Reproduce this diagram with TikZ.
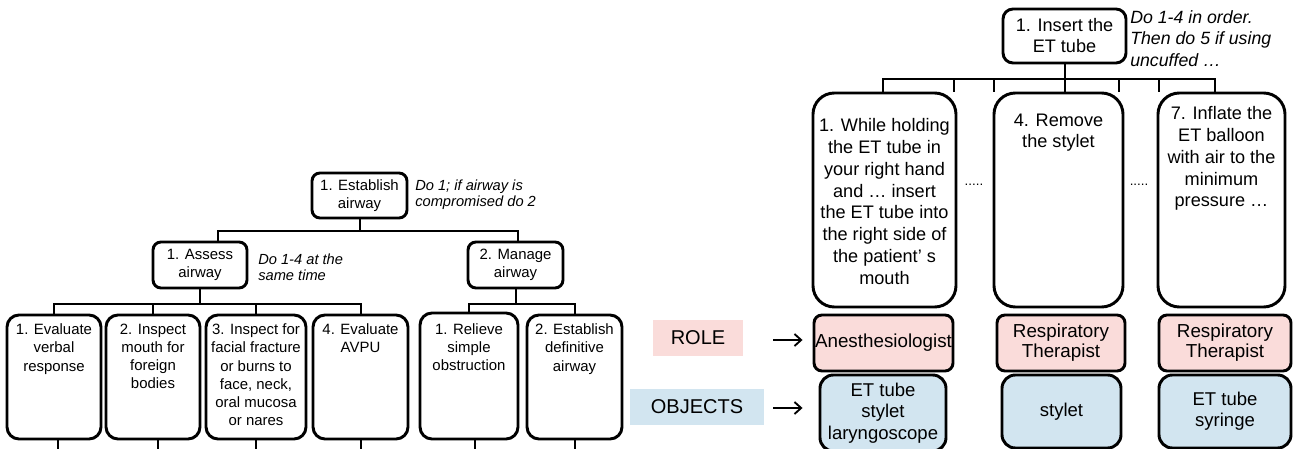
\documentclass[tikz,border=0pt]{standalone}
\usepackage{fontspec}
\setmainfont{Liberation Sans}
\usetikzlibrary{arrows.meta,calc}
\newdimen\pxu \pxu=0.75pt
\definecolor{rolepink}{RGB}{250,220,218}
\definecolor{objblue}{RGB}{210,229,240}
\newcommand\fLeft{\fontsize{11.2}{13.7}\selectfont}
\newcommand\fNoteL{\fontsize{11}{12}\selectfont\itshape}
\newcommand\fRight{\fontsize{13.6}{16.3}\selectfont}
\newcommand\fIns{\fontsize{13.6}{15.75}\selectfont}
\newcommand\fNoteR{\fontsize{13.3}{16.1}\selectfont\itshape}
\newcommand\fRole{\fontsize{14.1}{15}\selectfont}
\newcommand\fObj{\fontsize{13.9}{16}\selectfont}
\newcommand\fLab{\fontsize{15}{15}\selectfont}
\begin{document}
\begin{tikzpicture}[x=0.75pt,y=-0.75pt,
  tbox/.style={draw, line width=2.2pt, rounded corners=#1, inner sep=0pt, align=center},
  tbox/.default=6pt,
  conn/.style={line width=1.5pt},
  ttext/.style={inner sep=0pt, align=center, anchor=north},
  note/.style={inner sep=0pt, align=left, anchor=west},
  arrw/.style={line width=1.4pt, -{Straight Barb[length=5pt,width=9pt]}},
  lab/.style={inner sep=0pt, font=\fLab}]
\useasboundingbox (0,0) rectangle (1293,449);
\coordinate (bot) at (0,452);

% ---------- left tree ----------
\node[tbox, minimum width=95\pxu, minimum height=45\pxu, font=\fLeft] (est) at (359.5,195.5) {1. Establish\\airway};
\node[note, font=\fNoteL] (n1) at (415,195) {Do 1; if airway is\\compromised do 2};
\node[tbox, minimum width=94\pxu, minimum height=46\pxu, font=\fLeft] (assess) at (200,265) {1. Assess\\airway};
\node[note, font=\fNoteL] (n2) at (258,267.5) {Do 1-4 at the\\same time};
\node[tbox, minimum width=95\pxu, minimum height=46\pxu, font=\fLeft] (manage) at (515.5,265) {2. Manage\\airway};

\node[tbox=9pt, minimum width=94\pxu, minimum height=124\pxu] (c1) at (54,377) {};
\node[tbox=9pt, minimum width=94\pxu, minimum height=124\pxu] (c2) at (153,377) {};
\node[tbox=9pt, minimum width=100\pxu, minimum height=124\pxu] (c3) at (256,377) {};
\node[tbox=9pt, minimum width=95\pxu, minimum height=124\pxu] (c4) at (360.5,377) {};
\node[tbox=9pt, minimum width=98\pxu, minimum height=126\pxu] (c5) at (469,376) {};
\node[tbox=9pt, minimum width=95\pxu, minimum height=124\pxu] (c6) at (574.5,377) {};

\node[ttext, font=\fLeft] (t1) at (54,323.5) {1. Evaluate\\verbal\\response};
\node[ttext, font=\fLeft] (t2) at (153,323.5) {2. Inspect\\mouth for\\foreign\\bodies};
\node[ttext, font=\fLeft] (t3) at (256,323.5) {3. Inspect for\\facial fracture\\or burns to\\face, neck,\\oral mucosa\\or nares};
\node[ttext, font=\fLeft] (t4) at (360.5,323.5) {4. Evaluate\\AVPU};
\node[ttext, font=\fLeft] (t5) at (469,323) {1. Relieve\\simple\\obstruction};
\node[ttext, font=\fLeft] (t6) at (574.5,323.5) {2. Establish\\definitive\\airway};

\draw[conn] (est.south) -- ++(0,12) -| ([xshift=13.5pt]assess.north);
\draw[conn] (est.south) -- ++(0,12) -| ([xshift=2pt]manage.north);
\draw[conn] (assess.south) -- ++(0,15) -| (c1.north);
\draw[conn] (assess.south) -- ++(0,15) -| (c2.north);
\draw[conn] (assess.south) -- ++(0,15) -| (c3.north);
\draw[conn] (assess.south) -- ++(0,15) -| (c4.north);
\draw[conn] (manage.south) -- ++(0,15) -| (c5.north);
\draw[conn] (manage.south) -- ++(0,15) -| (c6.north);

\draw[conn] ([xshift=3pt]c1.south) -- ([xshift=3pt]c1.south |- bot);
\draw[conn] ([xshift=3.5pt]c2.south) -- ([xshift=3.5pt]c2.south |- bot);
\draw[conn] (c3.south) -- (c3.south |- bot);
\draw[conn] (c4.south) -- (c4.south |- bot);
\draw[conn] ([xshift=4.5pt]c5.south) -- ([xshift=4.5pt]c5.south |- bot);
\draw[conn] (c6.south) -- (c6.south |- bot);

% ---------- right tree ----------
\node[tbox=7.5pt, minimum width=123\pxu, minimum height=54\pxu, font=\fIns] (ins) at (1064.5,36) {1. Insert the\\ET tube};
\node[note, font=\fNoteR] (n3) at (1130,38.5) {Do 1-4 in order.\\Then do 5 if using\\uncuffed …};

\node[tbox=16pt, minimum width=143\pxu, minimum height=214\pxu] (rc1) at (884.5,200) {};
\node[tbox=16pt, minimum width=129\pxu, minimum height=214\pxu] (rc2) at (1058.5,200) {};
\node[tbox=16pt, minimum width=127\pxu, minimum height=214\pxu] (rc3) at (1221.5,200) {};

\node[ttext, font=\fRight] (rt1) at (884.5,118.5) {1. While holding\\the ET tube in\\your right hand\\and … insert\\the ET tube into\\the right side of\\the patient’ s\\mouth};
\node[ttext, font=\fRight] (rt2) at (1058.5,113.5) {4. Remove\\the stylet};
\node[ttext, font=\fRight] (rt3) at (1221.5,106.5) {7. Inflate the\\ET balloon\\with air to the\\minimum\\pressure …};

\node[inner sep=0pt, font=\fontsize{10}{10}\selectfont] (d1) at (974,185) {.....};
\node[inner sep=0pt, font=\fontsize{10}{10}\selectfont] (d2) at (1139,185) {.....};

\coordinate (barR) at (1215,79);
\coordinate (tk1) at (954,79);
\coordinate (tk2) at (994,79);
\coordinate (tk3) at (1119,79);
\coordinate (tk4) at (1159,79);
\draw[conn] (ins.south) -- (ins.south |- rc2.north);
\draw[conn] ([xshift=-1pt]rc1.north) |- (barR) -- (barR |- rc3.north);
\draw[conn] (tk1) -- ++(0,13);
\draw[conn] (tk2) -- ++(0,13);
\draw[conn] (tk3) -- ++(0,13);
\draw[conn] (tk4) -- ++(0,13);

% ---------- role / objects ----------
\node[lab, fill=rolepink, minimum width=90\pxu, minimum height=36\pxu] (role) at (698,338) {ROLE};
\node[lab, fill=objblue, minimum width=134\pxu, minimum height=36\pxu] (objs) at (697,407) {OBJECTS};

\node[tbox=6pt, fill=rolepink, minimum width=139\pxu, minimum height=56\pxu, font=\fRole] (rb1) at (883.5,343) {Anesthesiologist};
\node[tbox=6pt, fill=rolepink, minimum width=128\pxu, minimum height=56\pxu, font=\fRole] (rb2) at (1061,343) {Respiratory\\Therapist};
\node[tbox=6pt, fill=rolepink, minimum width=132\pxu, minimum height=56\pxu, font=\fRole] (rb3) at (1225,343) {Respiratory\\Therapist};

\node[tbox=10pt, fill=objblue, minimum width=126\pxu, minimum height=76\pxu, font=\fObj] (ob1) at (883,413) {ET tube\\stylet\\laryngoscope};
\node[tbox=10pt, fill=objblue, minimum width=119\pxu, minimum height=73\pxu, font=\fObj] (ob2) at (1061.5,411.5) {stylet};
\node[tbox=10pt, fill=objblue, minimum width=132\pxu, minimum height=73\pxu, font=\fObj] (ob3) at (1225,411.5) {ET tube\\syringe};

\draw[arrw, shorten <=22.5pt, shorten >=7.5pt] ([yshift=-1.5pt]role.east) -- ([yshift=-1.5pt]role.east -| rb1.west);
\draw[arrw, shorten <=6.75pt, shorten >=12pt] ([yshift=-0.75pt]objs.east) -- ([yshift=-0.75pt]objs.east -| ob1.west);
\end{tikzpicture}
\end{document}
